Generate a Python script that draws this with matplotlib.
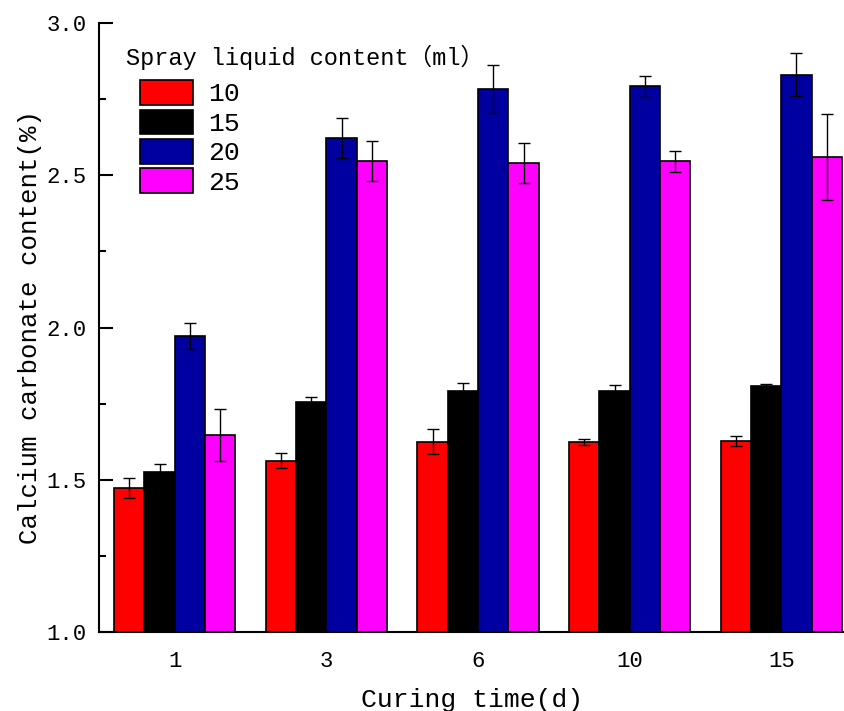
import numpy as np
import matplotlib
matplotlib.use('Agg')
from matplotlib import pyplot as plt
from matplotlib.ticker import MultipleLocator, FormatStrFormatter
from matplotlib.patches import Patch

plt.rcParams['font.family'] = ['Liberation Mono', 'Noto Sans CJK SC', 'DejaVu Sans']

curing_days = ['1', '3', '6', '10', '15']
spray_ml = ['10', '15', '20', '25']
colors = ['#ff0000', '#000000', '#0000a0', '#ff00ff']

# calcium carbonate content (%) per spray amount, one value per curing time
caco3_10 = [1.472, 1.563, 1.625, 1.625, 1.628]
caco3_15 = [1.524, 1.756, 1.792, 1.792, 1.807]
caco3_20 = [1.972, 2.622, 2.782, 2.792, 2.830]
caco3_25 = [1.647, 2.546, 2.539, 2.546, 2.560]

err_10 = [0.033, 0.024, 0.042, 0.010, 0.017]
err_15 = [0.027, 0.017, 0.025, 0.018, 0.008]
err_20 = [0.044, 0.066, 0.079, 0.035, 0.070]
err_25 = [0.084, 0.066, 0.066, 0.034, 0.142]

values = [caco3_10, caco3_15, caco3_20, caco3_25]
errors = [err_10, err_15, err_20, err_25]

fig = plt.figure(figsize=(8.45, 7.11), dpi=100)
ax = fig.add_axes([99 / 845, 79 / 711, 746 / 845, 609 / 711])

x = np.arange(len(curing_days))
width = 0.2
for i in range(len(spray_ml)):
	offs = (i - 1.5) * width
	ax.bar(x + offs, values[i], width, color=colors[i], edgecolor='black',
		linewidth=1.2, zorder=2)
	ax.errorbar(x + offs, values[i], yerr=errors[i], fmt='none',
		ecolor='black', elinewidth=1.0, capsize=4.3, capthick=1.0, zorder=3)

ax.set_xlim(-0.5, 4.42)
ax.set_ylim(1.0, 3.0)
ax.yaxis.set_major_locator(MultipleLocator(0.5))
ax.yaxis.set_minor_locator(MultipleLocator(0.25))
ax.yaxis.set_major_formatter(FormatStrFormatter('%.1f'))
ax.set_xticks(x)
ax.set_xticklabels(curing_days)

ax.spines['top'].set_visible(False)
ax.spines['right'].set_visible(False)
ax.spines['left'].set_linewidth(1.5)
ax.spines['bottom'].set_linewidth(1.5)
ax.tick_params(axis='y', which='major', direction='in', length=10, width=1.5,
	labelsize=16, pad=9)
ax.tick_params(axis='y', which='minor', direction='in', length=5, width=1.5)
ax.tick_params(axis='x', length=0, labelsize=16, pad=14)

ax.set_xlabel('Curing time(d)', fontsize=19, labelpad=11)
ax.set_ylabel('Calcium carbonate content(%)', fontsize=18.5, labelpad=3)

# legend: title as plain text, boxes indented under it
ax.text(0.036, 0.944, 'Spray liquid content（ml）', transform=ax.transAxes,
	fontsize=17, ha='left', va='center')
handles = [Patch(facecolor=c, edgecolor='black', linewidth=1.2) for c in colors]
ax.legend(handles, spray_ml, loc='upper left', bbox_to_anchor=(0.055, 0.906),
	frameon=False, fontsize=19, handlelength=2.0, handleheight=1.05,
	labelspacing=0.12, handletextpad=0.57, borderpad=0, borderaxespad=0)

fig.savefig('out.png', dpi=100)
